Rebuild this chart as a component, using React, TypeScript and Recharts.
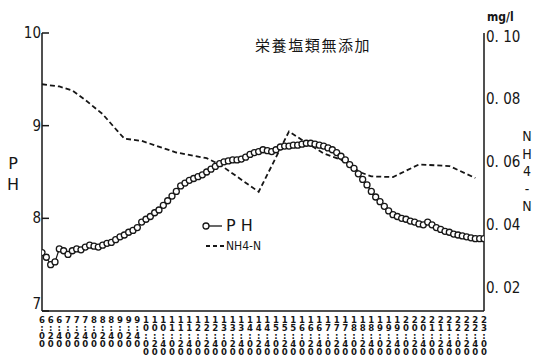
import React from 'react';
import { LineChart, Line, XAxis, YAxis } from 'recharts';

const tickLabels = [
  '6:00', '6:20', '6:40', '7:00', '7:20', '7:40', '8:00', '8:20', '8:40',
  '9:00', '9:20', '9:40', '10:00', '10:20', '10:40', '11:00', '11:20', '11:40',
  '12:00', '12:20', '12:40', '13:00', '13:20', '13:40', '14:00', '14:20', '14:40',
  '15:00', '15:20', '15:40', '16:00', '16:20', '16:40', '17:00', '17:20', '17:40',
  '18:00', '18:20', '18:40', '19:00', '19:20', '19:40', '20:00', '20:20', '20:40',
  '21:00', '21:20', '21:40', '22:00', '22:20', '22:40', '23:00',
];

// pH measured every 10 minutes from 6:00 to 23:00
const phValues = [
  7.63, 7.58, 7.5, 7.53, 7.67, 7.65, 7.61, 7.65, 7.67, 7.66,
  7.69, 7.71, 7.7, 7.69, 7.71, 7.73, 7.74, 7.77, 7.8, 7.82,
  7.85, 7.87, 7.9, 7.96, 7.99, 8.02, 8.06, 8.09, 8.14, 8.19,
  8.24, 8.29, 8.35, 8.38, 8.41, 8.43, 8.45, 8.47, 8.5, 8.53,
  8.56, 8.59, 8.61, 8.62, 8.63, 8.63, 8.64, 8.66, 8.69, 8.71,
  8.72, 8.74, 8.73, 8.72, 8.74, 8.77, 8.78, 8.78, 8.79, 8.79,
  8.8, 8.81, 8.81, 8.8, 8.79, 8.78, 8.76, 8.74, 8.71, 8.67,
  8.63, 8.58, 8.54, 8.48, 8.42, 8.36, 8.29, 8.23, 8.18, 8.13,
  8.08, 8.04, 8.02, 8.0, 7.99, 7.97, 7.96, 7.94, 7.93, 7.96,
  7.93, 7.9, 7.88, 7.86, 7.85, 7.83, 7.82, 7.81, 7.8, 7.79,
  7.78, 7.78, 7.78,
];
const phStepMinutes = 10;

const nh4Times = [
  '6:00', '6:40', '7:10', '7:40', '8:20', '8:55', '9:10', '9:50', '11:10', '12:20', '12:50',
  '14:20', '15:30', '16:00', '16:50', '17:30', '18:15', '18:40', '19:30', '20:30', '21:40', '22:40',
];
const nh4Values = [
  0.0845, 0.0838, 0.0825, 0.0795, 0.075, 0.0695, 0.0672, 0.0665, 0.0628, 0.061, 0.059,
  0.0503, 0.0695, 0.0668, 0.0625, 0.0605, 0.0565, 0.0552, 0.055, 0.059, 0.0585, 0.0547,
];

const leftTicks = [7, 8, 9, 10];
const rightTicks = [0.02, 0.04, 0.06, 0.08, 0.1];
const rightTickLabels = ['0. 02', '0. 04', '0. 06', '0. 08', '0. 10'];

const toMin = (s: string) => {
  const [h, m] = s.split(':').map(Number);
  return (h - 6) * 60 + m;
};

const phData = phValues.map((v, i) => ({ t: i * phStepMinutes, ph: v }));
const nh4Data = nh4Times.map((s, i) => ({ t: toMin(s), nh4: nh4Values[i] }));
const xTicks = tickLabels.map(toMin);
const labelByMin: Record<number, string> = {};
tickLabels.forEach((s) => (labelByMin[toMin(s)] = s));

const NUM_FONT = '"DejaVu Sans Condensed", "Liberation Sans Narrow", "DejaVu Sans", sans-serif';
const INK = '#161616';

const XTick = (props: any) => {
  const { x, y, payload } = props;
  const label = labelByMin[payload.value] ?? '';
  return (
    <text x={x} y={y} textAnchor="middle" fontSize={9.5} fontFamily={NUM_FONT} fill={INK} fontWeight="bold">
      {label.split('').map((c, i) => (
        <tspan key={i} x={x} dy={i === 0 ? 12 : 8}>
          {c}
        </tspan>
      ))}
    </text>
  );
};

const LeftTick = (props: any) => {
  const { x, y, payload } = props;
  const ty = Math.min(y, 304);
  return (
    <g>
      <line x1={x} y1={y} x2={x + 7} y2={y} stroke={INK} strokeWidth={1.5} />
      <text x={x - 1} y={ty + 5} textAnchor="end" fontSize={15} fontFamily={NUM_FONT} fill={INK}>
        {payload.value}
      </text>
    </g>
  );
};

const RightTick = (props: any) => {
  const { x, y, payload } = props;
  const idx = rightTicks.findIndex((t) => Math.abs(t - payload.value) < 1e-9);
  return (
    <text x={x + 2} y={y + 6} textAnchor="start" fontSize={15} fontFamily={NUM_FONT} fill={INK}>
      {rightTickLabels[idx] ?? ''}
    </text>
  );
};

export default function App() {
  return (
    <div style={{ position: 'absolute', left: 0, top: 0, width: 533, height: 362, background: '#fff' }}>
      <LineChart width={533} height={362} margin={{ top: 33, right: 0, bottom: 0, left: 0 }}>
        <XAxis
          dataKey="t"
          type="number"
          domain={[0, 1020]}
          ticks={xTicks}
          interval={0}
          tickSize={0}
          tickMargin={0}
          tickLine={false}
          height={51}
          axisLine={{ stroke: INK, strokeWidth: 1.5 }}
          tick={<XTick />}
          allowDataOverflow
        />
        <YAxis
          yAxisId="ph"
          orientation="left"
          width={42}
          domain={[7, 10]}
          ticks={leftTicks}
          tickSize={0}
          tickMargin={0}
          tickLine={false}
          axisLine={{ stroke: INK, strokeWidth: 1.5 }}
          tick={<LeftTick />}
          allowDataOverflow
        />
        <YAxis
          yAxisId="nh4"
          orientation="right"
          width={49}
          domain={[0.0124, 0.1008]}
          ticks={rightTicks}
          tickSize={0}
          tickMargin={0}
          tickLine={false}
          axisLine={{ stroke: INK, strokeWidth: 1.5 }}
          tick={<RightTick />}
          allowDataOverflow
        />
        <Line
          yAxisId="nh4"
          data={nh4Data}
          dataKey="nh4"
          type="linear"
          stroke={INK}
          strokeWidth={1.8}
          strokeDasharray="5 3"
          dot={false}
          isAnimationActive={false}
        />
        <Line
          yAxisId="ph"
          data={phData}
          dataKey="ph"
          type="linear"
          stroke={INK}
          strokeWidth={1.2}
          dot={{ r: 3, stroke: INK, strokeWidth: 1.3, fill: '#fff' }}
          isAnimationActive={false}
        />
      </LineChart>

      {/* Title */}
      <div
        style={{
          position: 'absolute', left: 255, top: 36, fontSize: 15, letterSpacing: 1.6,
          fontFamily: '"Noto Sans CJK JP", sans-serif', color: INK, whiteSpace: 'nowrap', lineHeight: '18px',
        }}
      >
        栄養塩類無添加
      </div>

      {/* Left axis label */}
      <div
        style={{
          position: 'absolute', left: 5, top: 153, width: 16, textAlign: 'center', fontSize: 16,
          fontFamily: '"DejaVu Sans", sans-serif', color: INK, lineHeight: '21px',
        }}
      >
        <div>P</div>
        <div>H</div>
      </div>

      {/* Right unit */}
      <div
        style={{
          position: 'absolute', left: 487, top: 10, fontSize: 12, fontFamily: NUM_FONT, color: INK,
          lineHeight: '14px', fontWeight: 'bold',
        }}
      >
        mg/l
      </div>

      {/* Right axis label */}
      <div
        style={{
          position: 'absolute', left: 520, top: 128, width: 14, textAlign: 'center', fontSize: 14,
          fontFamily: NUM_FONT, color: INK, lineHeight: '17.5px',
        }}
      >
        {['N', 'H', '4', '-', 'N'].map((c, i) => (
          <div key={i}>{c}</div>
        ))}
      </div>

      {/* Legend */}
      <div style={{ position: 'absolute', left: 200, top: 216, width: 80, height: 40 }}>
        <svg width={80} height={40} style={{ position: 'absolute', left: 0, top: 0 }}>
          <circle cx={6} cy={10} r={3} fill="#fff" stroke={INK} strokeWidth={1.3} />
          <line x1={9} y1={10} x2={22} y2={10} stroke={INK} strokeWidth={1.3} />
          <line x1={6} y1={30} x2={24} y2={30} stroke={INK} strokeWidth={1.8} strokeDasharray="4 3" />
        </svg>
        <div
          style={{
            position: 'absolute', left: 26, top: 1, fontSize: 16, letterSpacing: 5,
            fontFamily: '"DejaVu Sans", sans-serif', color: INK, lineHeight: '18px', whiteSpace: 'nowrap',
          }}
        >
          PH
        </div>
        <div
          style={{
            position: 'absolute', left: 26, top: 23, fontSize: 12, fontFamily: NUM_FONT, color: INK,
            lineHeight: '14px', whiteSpace: 'nowrap',
          }}
        >
          NH4-N
        </div>
      </div>
    </div>
  );
}
